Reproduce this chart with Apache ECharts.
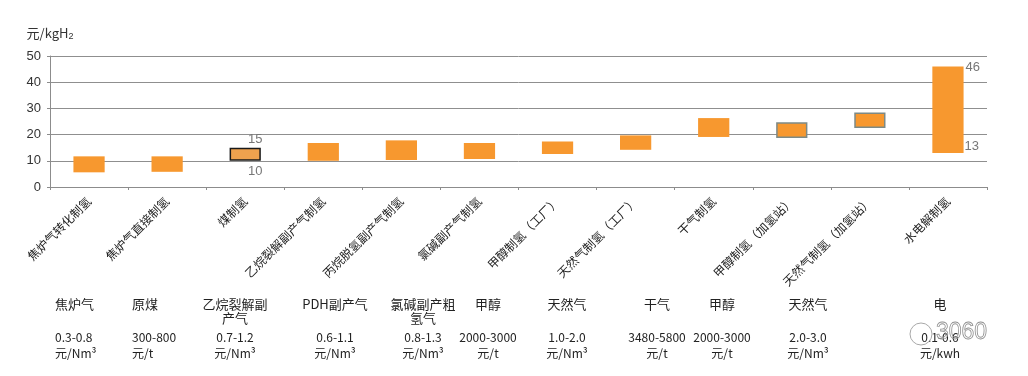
<!DOCTYPE html>
<html>
<head>
<meta charset="utf-8">
<script src="https://cdn.jsdelivr.net/npm/echarts@6/dist/echarts.min.js"></script>
<style>
  html, body { margin: 0; padding: 0; background: #fff; }
  #chart { width: 1028px; height: 376px; }
</style>
</head>
<body>
<div id="chart"></div>
<script>
const categories = [
  '焦炉气转化制氢', '焦炉气直接制氢', '煤制氢', '乙烷裂解副产气制氢', '丙烷脱氢副产气制氢', '氯碱副产气制氢',
  '甲醇制氢（工厂）', '天然气制氢（工厂）', '干气制氢', '甲醇制氢（加氢站）', '天然气制氢（加氢站）', '水电解制氢'
]
const lowValues = [5.6, 5.8, 10, 10, 10.3, 10.7, 12.6, 14.2, 19.1, 18.7, 22.5, 13]
const highValues = [11.7, 11.7, 15, 16.8, 17.8, 16.8, 17.4, 19.7, 26.3, 24.7, 28.4, 46]
const labeledBars = [2, 11]

const feedstocks = ['焦炉气', '原煤', '乙烷裂解副\n产气', 'PDH副产气', '氯碱副产粗\n氢气', '甲醇', '天然气', '干气', '甲醇', '天然气', '电']
const priceRanges = ['0.3-0.8', '300-800', '0.7-1.2', '0.6-1.1', '0.8-1.3', '2000-3000', '1.0-2.0', '3480-5800', '2000-3000', '2.0-3.0', '0.1-0.6']
const priceUnits = ['元/Nm³', '元/t', '元/Nm³', '元/Nm³', '元/Nm³', '元/t', '元/Nm³', '元/t', '元/t', '元/Nm³', '元/kwh']

// layout of the feedstock table under the chart
const columnX = [55, 132, 235, 335, 423, 488, 567, 657, 722, 808, 940]
const columnAlign = ['left', 'left', 'center', 'center', 'center', 'center', 'center', 'center', 'center', 'center', 'center']

const ORANGE = '#F7982F'
const cjk = '"Noto Sans CJK SC", sans-serif'
const latin = '"Liberation Sans", Arial, sans-serif'

const chart = echarts.init(document.getElementById('chart'))

const baseData = lowValues.map((v, i) => {
  const item = { value: v }
  if (labeledBars.includes(i)) {
    item.label = i === 11
      ? { show: true, position: ['100%', 0], align: 'left', verticalAlign: 'bottom', offset: [1, 0] }
      : { show: true, position: ['50%', 0], align: 'center', verticalAlign: 'top', offset: [10, 4] }
  }
  return item
})

const rangeData = highValues.map((v, i) => {
  const item = { value: +(v - lowValues[i]).toFixed(2) }
  if (i === 2) {
    item.itemStyle = { color: '#EFA24E', borderColor: '#1a1a1a', borderWidth: 1.5 }
    item.label = { show: true, position: ['50%', 0], align: 'center', verticalAlign: 'bottom', offset: [10, -2] }
  }
  if (i === 9 || i === 10) {
    item.itemStyle = { color: ORANGE, borderColor: '#7d8a86', borderWidth: 1.5 }
  }
  if (i === 11) {
    item.label = { show: true, position: ['100%', 0], align: 'left', verticalAlign: 'middle', offset: [2, 1] }
  }
  return item
})

const tableGraphics = []
feedstocks.forEach((name, i) => {
  tableGraphics.push({
    type: 'text', x: columnX[i], y: 297,
    style: {
      text: name, fontFamily: cjk, fontSize: 13, fill: '#222',
      align: columnAlign[i], verticalAlign: 'top', lineHeight: 14
    }
  })
  tableGraphics.push({
    type: 'text', x: columnX[i], y: 329,
    style: {
      text: priceRanges[i] + '\n' + priceUnits[i], fontFamily: cjk, fontSize: 12, fill: '#222',
      align: columnAlign[i], verticalAlign: 'top', lineHeight: 16
    }
  })
})
// faint watermark in the corner
tableGraphics.push({
  type: 'text', x: 936, y: 321, z: 10,
  style: { text: '3060', fontFamily: latin, fontSize: 23, fill: 'rgba(255,255,255,0.1)', stroke: '#8a8a8a', lineWidth: 0.8 }
})
tableGraphics.push({
  type: 'circle', z: 10, shape: { cx: 921, cy: 334, r: 11 },
  style: { fill: 'none', stroke: '#a8a8a8', lineWidth: 1 }
})

const option = {
  animation: false,
  grid: { left: 50, right: 41, top: 56, bottom: 189, containLabel: false },
  xAxis: {
    type: 'category',
    data: categories,
    axisLine: { lineStyle: { color: '#8c8c8c' } },
    axisTick: { show: true, length: 3, lineStyle: { color: '#8c8c8c' } },
    axisLabel: {
      interval: 0, rotate: 45, margin: 12,
      fontFamily: cjk, fontSize: 12, color: '#222'
    }
  },
  yAxis: {
    type: 'value',
    min: 0, max: 50, interval: 10,
    name: '{a|元/kgH}{s|2}',
    nameGap: 14,
    nameTextStyle: {
      rich: {
        a: { fontFamily: cjk, fontSize: 13, color: '#333', lineHeight: 18 },
        s: { fontFamily: latin, fontSize: 9, color: '#333', lineHeight: 18, padding: [8, 0, 0, 0] }
      }
    },
    axisLine: { show: true, lineStyle: { color: '#8c8c8c' } },
    axisTick: { show: true, length: 3, lineStyle: { color: '#8c8c8c' } },
    axisLabel: { fontFamily: latin, fontSize: 13, color: '#333', margin: 9 },
    splitLine: { lineStyle: { color: '#8f8f8f', width: 1 } }
  },
  series: [
    {
      type: 'bar',
      stack: 'range',
      barWidth: '40%',
      data: baseData,
      itemStyle: { color: 'transparent' },
      label: {
        show: false,
        fontFamily: latin, fontSize: 13, color: '#777',
        formatter: p => String(lowValues[p.dataIndex])
      }
    },
    {
      type: 'bar',
      stack: 'range',
      barWidth: '40%',
      data: rangeData,
      itemStyle: { color: ORANGE },
      label: {
        show: false,
        fontFamily: latin, fontSize: 13, color: '#777',
        formatter: p => String(highValues[p.dataIndex])
      }
    }
  ],
  graphic: tableGraphics
}

chart.setOption(option)
</script>
</body>
</html>
